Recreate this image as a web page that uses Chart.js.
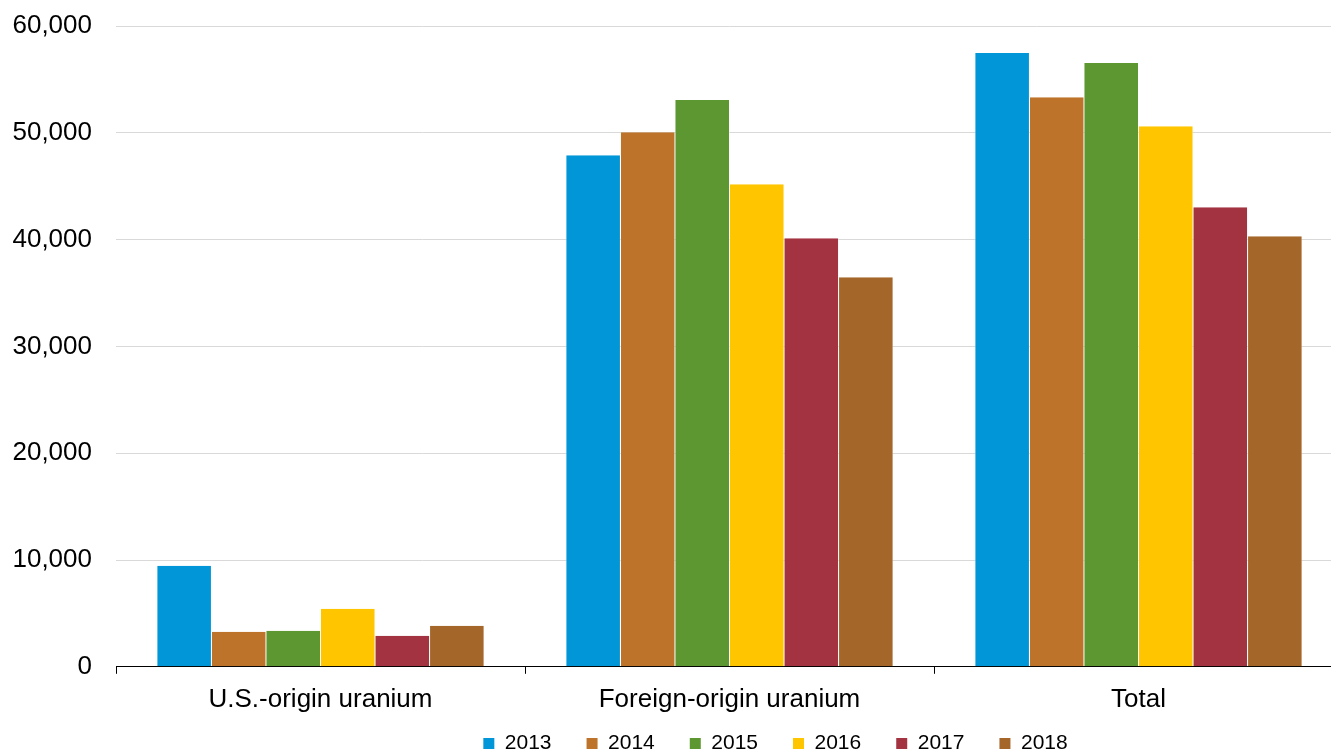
<!DOCTYPE html>
<html>
<head>
<meta charset="utf-8">
<script src="https://cdn.jsdelivr.net/npm/chart.js@4"></script>
<style>
  html, body { margin: 0; padding: 0; background: #fff; overflow: hidden; }
  #wrap { width: 1345px; height: 752px; }
</style>
</head>
<body>
<div id="wrap"><canvas id="uraniumChart"></canvas></div>
<script>
// uranium by origin, 2013-2018
var categories = ['U.S.-origin uranium', 'Foreign-origin uranium', 'Total'];
var years = ['2013', '2014', '2015', '2016', '2017', '2018'];

var v2013 = [9470, 47900, 57470];
var v2014 = [3280, 50060, 53340];
var v2015 = [3380, 53060, 56530];
var v2016 = [5440, 45190, 50620];
var v2017 = [2900, 40130, 43030];
var v2018 = [3840, 36470, 40310];

var yTicks = [0, 10000, 20000, 30000, 40000, 50000, 60000];

var colors = ['#0096D7', '#BD732A', '#5D9732', '#FFC600', '#A33340', '#A5662A'];
var series = [v2013, v2014, v2015, v2016, v2017, v2018];

Chart.defaults.font.family = '"Liberation Sans", Arial, sans-serif';
Chart.defaults.color = '#000';

// legend sits a bit right of centre and lower in the original
var legendNudge = {
  id: 'legendNudge',
  afterLayout: function (c) {
    var lg = c.legend;
    if (!lg) return;
    lg.left += 208;
    lg.top += 8;
    lg.bottom += 8;
  }
};

var ctx = document.getElementById('uraniumChart').getContext('2d');
var chart = new Chart(ctx, {
  type: 'bar',
  data: {
    labels: categories,
    datasets: series.map(function (vals, i) {
      return {
        label: years[i],
        data: vals,
        backgroundColor: colors[i],
        borderColor: '#fff',
        borderWidth: { left: 0.5, right: 0.5 },
        borderSkipped: 'bottom',
        categoryPercentage: 0.8,
        barPercentage: 1.0
      };
    })
  },
  plugins: [legendNudge],
  options: {
    responsive: true,
    maintainAspectRatio: false,
    animation: false,
    layout: { padding: { top: 0, right: 2, left: 0, bottom: -4 } },
    plugins: {
      tooltip: { enabled: false },
      legend: {
        position: 'bottom',
        labels: {
          boxWidth: 11,
          boxHeight: 11,
          padding: 0,
          font: { size: 21 },
          color: '#000',
          generateLabels: function (c) {
            return c.data.datasets.map(function (ds, i) {
              return {
                text: ds.label + (i < years.length - 1 ? '      ' : ''),
                fillStyle: ds.backgroundColor,
                strokeStyle: ds.backgroundColor,
                lineWidth: 0,
                datasetIndex: i
              };
            });
          }
        }
      }
    },
    scales: {
      x: {
        grid: {
          offset: true,
          drawOnChartArea: false,
          drawTicks: true,
          tickLength: 7,
          color: '#000'
        },
        border: { color: '#000', width: 1 },
        ticks: { font: { size: 26 }, padding: 10, color: '#000' }
      },
      y: {
        min: 0,
        max: 60000,
        afterBuildTicks: function (axis) {
          axis.ticks = yTicks.map(function (v) { return { value: v }; });
        },
        afterFit: function (axis) {
          axis.width = 116;
          axis.paddingTop = 26;
          axis.paddingBottom = 0;
        },
        grid: { color: '#d9d9d9', drawTicks: false },
        border: { display: false },
        ticks: {
          font: { size: 26 },
          padding: 24,
          color: '#000',
          callback: function (v) { return v.toLocaleString('en-US'); }
        }
      }
    }
  }
});
</script>
</body>
</html>
